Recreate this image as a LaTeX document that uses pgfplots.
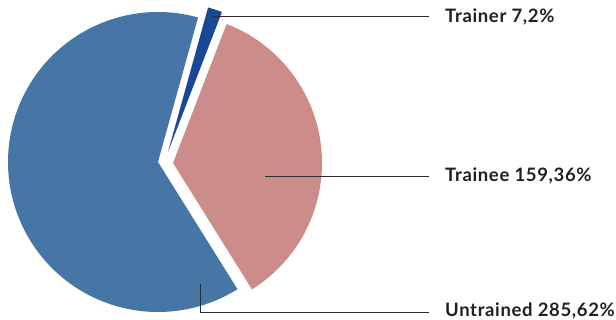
\documentclass[border=0pt]{standalone}
\usepackage{pgfplots}
\pgfplotsset{compat=1.18}
\usepackage{pgfplotstable}
\usepackage{fontspec}
\setmainfont{Lato}
\newfontfamily\labelfont[LetterSpace=3.5]{Lato}
\definecolor{untrained}{RGB}{70,118,166}
\definecolor{trainee}{RGB}{204,140,138}
\definecolor{trainer}{RGB}{24,72,150}
\definecolor{txt}{RGB}{35,31,32}
\definecolor{lead}{RGB}{45,45,45}

\pgfplotstableread{
label value
Trainer 7
Trainee 159
Untrained 285
}\piedata

\begin{document}
\begin{tikzpicture}
\pgfplotstablegetelem{0}{value}\of\piedata \pgfmathsetmacro\vA{\pgfplotsretval}
\pgfplotstablegetelem{1}{value}\of\piedata \pgfmathsetmacro\vB{\pgfplotsretval}
\pgfplotstablegetelem{2}{value}\of\piedata \pgfmathsetmacro\vC{\pgfplotsretval}
\pgfmathsetmacro\total{\vA+\vB+\vC}
\pgfmathsetmacro\aS{-58}
\pgfmathsetmacro\aB{\aS+\vB/\total*360}
\pgfmathsetmacro\aA{\aB+\vA/\total*360}
\pgfmathsetmacro\aC{\aA+\vC/\total*360}
\path[use as bounding box] (0,0) rectangle (616pt,320pt);
\begin{axis}[x=1pt,y=1pt,xmin=0,xmax=616,ymin=0,ymax=320,y dir=reverse,
  hide axis,clip=false,anchor=south west,at={(0,0)},no markers]
% Untrained
\addplot[fill=untrained,draw=none,domain=\aA:\aC,samples=150,variable=\t]
  ({158+150*cos(\t)},{162-150*sin(\t)}) -- (axis cs:158,162) -- cycle;
% Trainee
\addplot[fill=trainee,draw=none,domain=\aS:\aB,samples=100,variable=\t]
  ({173+149*cos(\t)},{163-149*sin(\t)}) -- (axis cs:173,163) -- cycle;
% Trainer
\addplot[fill=trainer,draw=none,domain=\aB:\aA,samples=10,variable=\t]
  ({168+150*cos(\t)},{152-150*sin(\t)}) -- (axis cs:168,152) -- cycle;
% leader lines
\addplot[lead,line width=0.9pt] coordinates {(213,16.5) (429,16.5)};
\addplot[lead,line width=0.9pt] coordinates {(265,176.5) (429,176.5)};
\addplot[lead,line width=0.9pt] coordinates {(200,284) (200,312.5) (429,312.5)};
\node[anchor=base west,inner sep=0pt,text=txt,font=\labelfont\fontsize{18.5}{20}\selectfont\bfseries] at (axis cs:445,22.7) {Trainer 7,2\%};
\node[anchor=base west,inner sep=0pt,text=txt,font=\labelfont\fontsize{18.5}{20}\selectfont\bfseries] at (axis cs:445,181.7) {Trainee 159,36\%};
\node[anchor=base west,inner sep=0pt,text=txt,font=\labelfont\fontsize{18.5}{20}\selectfont\bfseries] at (axis cs:445,316.7) {Untrained 285,62\%};
\end{axis}
\end{tikzpicture}
\end{document}
